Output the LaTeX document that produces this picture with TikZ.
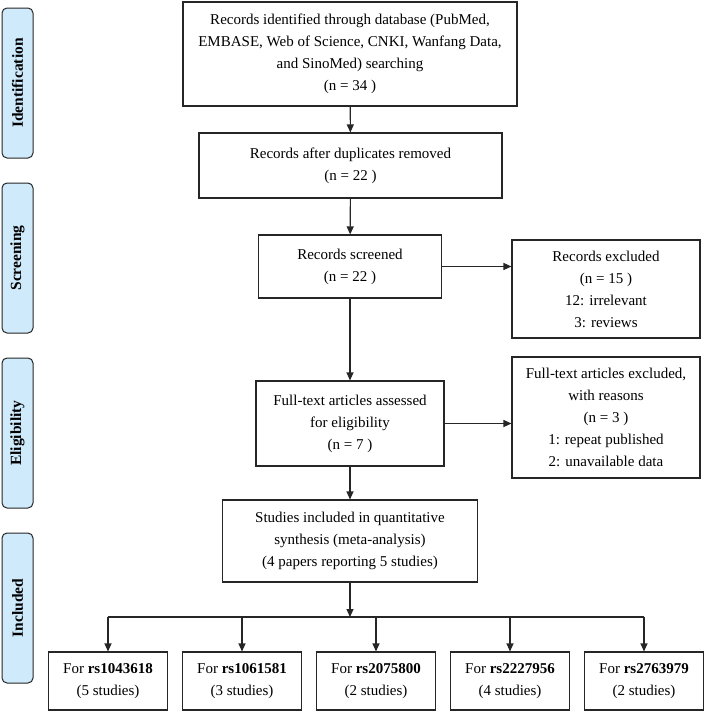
\documentclass[tikz,border=0pt]{standalone}
\usepackage{fontspec}
\setmainfont{Liberation Serif}
\usetikzlibrary{arrows.meta}
\definecolor{lblfill}{HTML}{CFEAFB}
\definecolor{lnc}{HTML}{262626}
\begin{document}
\begin{tikzpicture}[x=1pt,y=-1pt,
  box/.style={draw=lnc,line width=1.1pt,rectangle,align=center,inner sep=0pt,
    font=\fontsize{15}{22}\selectfont},
  lbl/.style={draw=lnc,line width=1pt,fill=lblfill,rounded corners=5pt,minimum width=31pt,
    minimum height=150pt,inner sep=0pt},
  lbltxt/.style={rotate=90,font=\bfseries\fontsize{15.5}{18}\selectfont},
  arr/.style={draw=lnc,line width=1.1pt,-{Triangle[length=8pt,width=7pt]}},
  ln/.style={draw=lnc,line width=1.1pt}]
\useasboundingbox (0,0) rectangle (705,715);
% side labels
\node[lbl] (L1) at (17.5,83) {};
\node[lbltxt] at (L1) {Identification};
\node[lbl] (L2) at (17.5,258) {};
\node[lbltxt] at (L2) {Screening};
\node[lbl] (L3) at (17.5,433) {};
\node[lbltxt] at (L3) {Eligibility};
\node[lbl] (L4) at (17.5,608) {};
\node[lbltxt] at (L4) {Included};
% main boxes
\node[box,minimum width=334pt,minimum height=104pt] (b1) at (350,54)
  {Records identified through database (PubMed,\\EMBASE, Web of Science, CNKI, Wanfang Data,\\and SinoMed) searching\\(n = 34 )};
\node[box,minimum width=303pt,minimum height=65pt] (b2) at (350.5,165.5)
  {Records after duplicates removed\\(n = 22 )};
\node[box,minimum width=183pt,minimum height=63pt] (b3) at (350,266.5)
  {Records screened\\(n = 22 )};
\node[box,minimum width=188pt,minimum height=98pt] (e1) at (606,289)
  {Records excluded\\(n = 15 )\\12: irrelevant\\3: reviews};
\node[box,minimum width=188pt,minimum height=85pt] (b4) at (350,423.5)
  {Full-text articles assessed\\for eligibility\\(n = 7 )};
\node[box,minimum width=188pt,minimum height=121pt] (e2) at (606,417.5)
  {Full-text articles excluded,\\with reasons\\(n = 3 )\\1: repeat published\\2: unavailable data};
\node[box,minimum width=255pt,minimum height=82pt] (b5) at (350,541)
  {Studies included in quantitative\\synthesis (meta-analysis)\\(4 papers reporting 5 studies)};
% bottom boxes
\node[box,minimum width=119pt,minimum height=58pt] (s1) at (108,681) {For \textbf{rs1043618}\\(5 studies)};
\node[box,minimum width=119pt,minimum height=58pt] (s2) at (242,681) {For \textbf{rs1061581}\\(3 studies)};
\node[box,minimum width=119pt,minimum height=58pt] (s3) at (376,681) {For \textbf{rs2075800}\\(2 studies)};
\node[box,minimum width=119pt,minimum height=58pt] (s4) at (510,681) {For \textbf{rs2227956}\\(4 studies)};
\node[box,minimum width=119pt,minimum height=58pt] (s5) at (644,681) {For \textbf{rs2763979}\\(2 studies)};
\coordinate (bar) at (350,617);
% connectors
\draw[arr] (b1) -- (b2);
\draw[arr] (b2) -- (b3);
\draw[arr] (b3) -- (b4);
\draw[arr] (b4) -- (b5);
\draw[arr] (b3.east) -- (b3.east -| e1.west);
\draw[arr] (b4.east) -- (b4.east -| e2.west);
\draw[arr] (b5.south) -- (bar);
\draw[ln] (bar -| s1.north) -- (bar -| s5.north);
\foreach \s in {s1,s2,s3,s4,s5} \draw[arr] (bar -| \s.north) -- (\s.north);
\end{tikzpicture}
\end{document}
